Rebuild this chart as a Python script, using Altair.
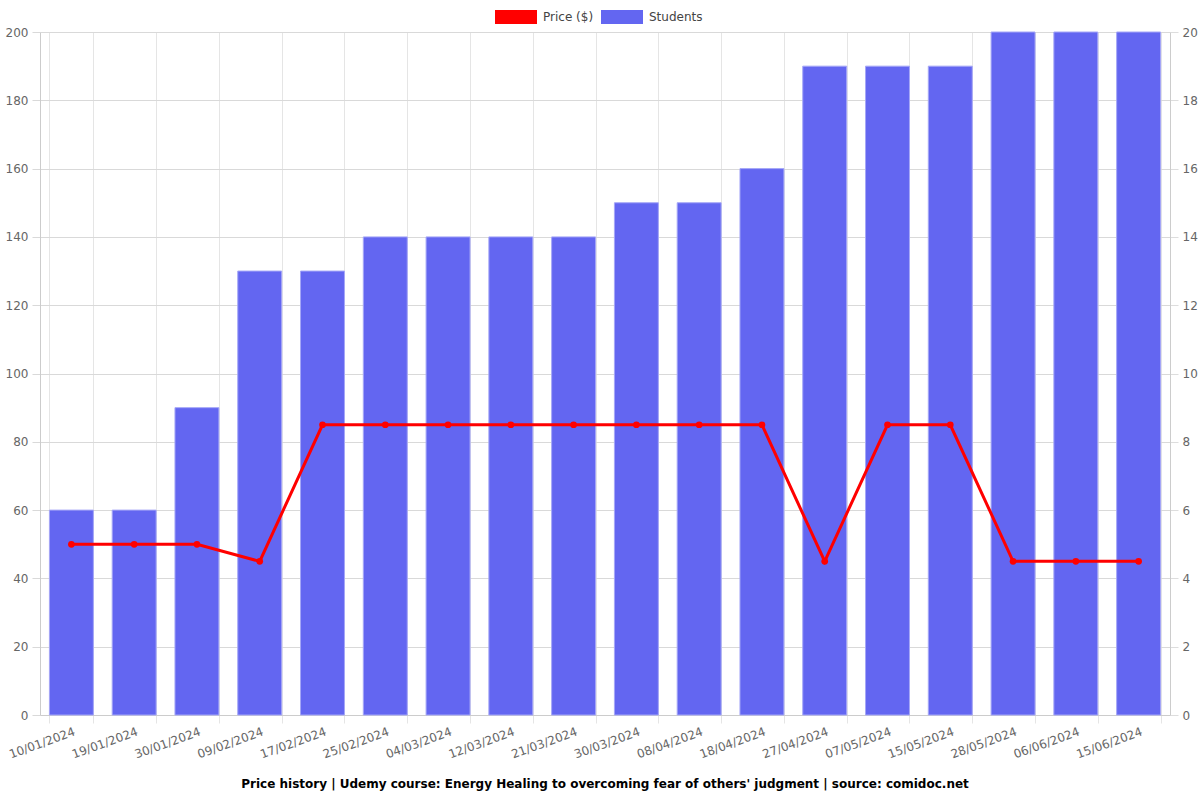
import altair as alt
import pandas as pd

dates = ["10/01/2024", "19/01/2024", "30/01/2024", "09/02/2024", "17/02/2024",
         "25/02/2024", "04/03/2024", "12/03/2024", "21/03/2024", "30/03/2024",
         "08/04/2024", "18/04/2024", "27/04/2024", "07/05/2024", "15/05/2024",
         "28/05/2024", "06/06/2024", "15/06/2024"]
students = [6, 6, 9, 13, 13, 14, 14, 14, 14, 15, 15, 16, 19, 19, 19, 20, 20, 20]
prices = [49.99, 49.99, 49.99, 44.99, 84.99, 84.99, 84.99, 84.99, 84.99, 84.99,
          84.99, 84.99, 44.99, 84.99, 84.99, 44.99, 44.99, 44.99]

series_names = ["Price ($)", "Students"]
series_colors = ["#ff0000", "#6366f1"]

df = pd.DataFrame({"date": dates, "students": students, "price": prices})

FONT = "DejaVu Sans"
LABEL_COLOR = "#666666"

color_scale = alt.Scale(domain=series_names, range=series_colors)
rect_path = "M-1.5,-0.5H1.5V0.5H-1.5Z"

x_enc = alt.X(
    "date:N",
    sort=dates,
    scale=alt.Scale(paddingInner=0.3, paddingOuter=0.15),
    axis=alt.Axis(
        title=None, labelAngle=340, labelAlign="right", labelBaseline="top",
        tickBand="extent", grid=True, gridColor="#e5e5e5",
        tickColor="#e5e5e5", tickSize=8, domainColor="#cccccc",
        labelColor=LABEL_COLOR, labelFont=FONT, labelFontSize=12,
        labelPadding=3, labelOffset=1,
    ),
)

bars = alt.Chart(df).transform_calculate(series="'Students'").mark_bar(
    stroke="#a5a7f7", strokeWidth=1
).encode(
    x=x_enc,
    y=alt.Y(
        "students:Q",
        scale=alt.Scale(domain=[0, 20], nice=False),
        axis=alt.Axis(
            orient="right", title=None, values=list(range(0, 21, 2)),
            grid=False, tickColor="#dddddd", tickSize=8, domainColor="#cccccc",
            labelColor=LABEL_COLOR, labelFont=FONT, labelFontSize=12, labelPadding=4,
        ),
    ),
    color=alt.Color(
        "series:N",
        scale=color_scale,
        legend=alt.Legend(
            title=None, orient="none", direction="horizontal",
            legendX=462, legendY=-29,
            symbolType=rect_path, symbolSize=784, symbolStrokeWidth=0,
            labelFont=FONT, labelFontSize=12, labelColor="#444444",
            labelOffset=13, columnPadding=7,
        ),
    ),
)

line = alt.Chart(df).transform_calculate(series="'Price ($)'").mark_line(
    strokeWidth=3, point=alt.OverlayMarkDef(filled=True, size=45, color="#ff0000")
).encode(
    x=alt.X("date:N", sort=dates),
    y=alt.Y(
        "price:Q",
        scale=alt.Scale(domain=[0, 200], nice=False),
        axis=alt.Axis(
            orient="left", title=None, values=list(range(0, 201, 20)),
            grid=True, gridColor="#d9d9d9", tickColor="#d9d9d9", tickSize=8,
            domainColor="#cccccc",
            labelColor=LABEL_COLOR, labelFont=FONT, labelFontSize=12, labelPadding=4,
        ),
    ),
    color=alt.Color("series:N", scale=color_scale, legend=None),
)

chart = (
    alt.layer(bars, line)
    .resolve_scale(y="independent")
    .properties(
        width=1130,
        height=683,
        padding={"left": 40, "top": 32, "right": 30, "bottom": 85},
        autosize=alt.AutoSizeParams(type="none"),
        title=alt.TitleParams(
            "Price history | Udemy course: Energy Healing to overcoming fear of others' judgment | source: comidoc.net",
            orient="bottom", font=FONT, fontSize=12, fontWeight="bold",
            color="#000000", offset=19,
        ),
    )
    .configure_view(stroke=None)
)

chart.save("out.html", embed_options={"renderer": "svg", "actions": False})
